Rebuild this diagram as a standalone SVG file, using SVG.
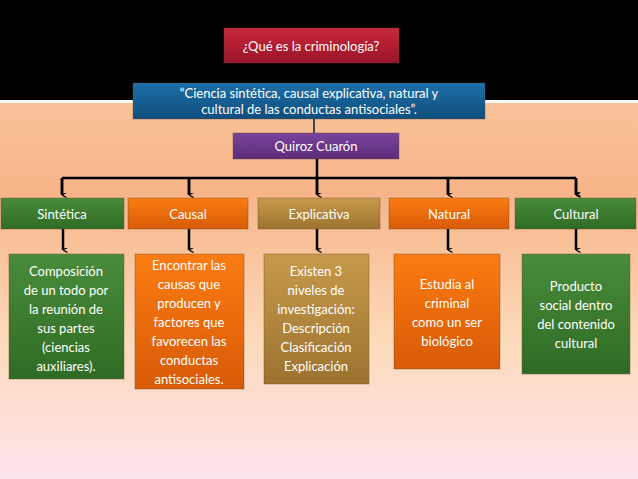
<svg xmlns="http://www.w3.org/2000/svg" width="638" height="479" viewBox="0 0 638 479">
<defs>
<linearGradient id="bg" x1="0" y1="0" x2="0" y2="1">
<stop offset="0" stop-color="#fbd3ad"/>
<stop offset="0.4" stop-color="#f7b488"/>
<stop offset="0.7" stop-color="#fcd9b8"/>
<stop offset="1" stop-color="#fde4ec"/>
</linearGradient>
<linearGradient id="red" x1="0" y1="0" x2="0" y2="1"><stop offset="0" stop-color="#c8283d"/><stop offset="1" stop-color="#9a1428"/></linearGradient>
<linearGradient id="blue" x1="0" y1="0" x2="0" y2="1"><stop offset="0" stop-color="#1d6fa8"/><stop offset="1" stop-color="#0e4e7e"/></linearGradient>
<linearGradient id="purple" x1="0" y1="0" x2="0" y2="1"><stop offset="0" stop-color="#7a439a"/><stop offset="1" stop-color="#5b2c7a"/></linearGradient>
<linearGradient id="green" x1="0" y1="0" x2="0" y2="1"><stop offset="0" stop-color="#4a8c3a"/><stop offset="1" stop-color="#2f6b25"/></linearGradient>
<linearGradient id="orange" x1="0" y1="0" x2="0" y2="1"><stop offset="0" stop-color="#fb7c12"/><stop offset="1" stop-color="#d85a06"/></linearGradient>
<linearGradient id="tan" x1="0" y1="0" x2="0" y2="1"><stop offset="0" stop-color="#c79a4a"/><stop offset="1" stop-color="#9c7230"/></linearGradient>
<marker id="ah" viewBox="0 0 10 10" refX="5" refY="9" markerWidth="5" markerHeight="5" orient="auto-start-reverse" markerUnits="userSpaceOnUse">
<path d="M0,0 L5,9 L10,0" fill="none" stroke="#000" stroke-width="2.5"/>
</marker>
</defs>
<style>
text{font-family:Lato,"Open Sans","Liberation Sans",sans-serif;fill:#fff;text-anchor:middle;font-size:13px}
.b{stroke:#6b4a30;stroke-opacity:0.4;stroke-width:1}
.c{stroke:#000;stroke-width:2.5;fill:none}
</style>
<rect width="638" height="479" fill="url(#bg)"/>
<rect width="638" height="100" fill="#000"/>
<rect y="100" width="638" height="3" fill="#fff"/>
<g id="connectors">
<path class="c" d="M317,159 V178 M62,178 H576 M62,178 V194 M189,178 V194 M317,178 V194 M448,178 V194 M576,178 V194" marker-end="url(#ah)"/>
<path class="c" d="M62,178 V195" marker-end="url(#ah)"/>
<path class="c" d="M189,178 V195" marker-end="url(#ah)"/>
<path class="c" d="M317,178 V195" marker-end="url(#ah)"/>
<path class="c" d="M448,178 V195" marker-end="url(#ah)"/>
<path class="c" d="M576,178 V195" marker-end="url(#ah)"/>
<path class="c" d="M63,229 V250" marker-end="url(#ah)"/>
<path class="c" d="M189,229 V250" marker-end="url(#ah)"/>
<path class="c" d="M317,229 V250" marker-end="url(#ah)"/>
<path class="c" d="M448,229 V250" marker-end="url(#ah)"/>
<path class="c" d="M576,229 V250" marker-end="url(#ah)"/>
<path d="M314,119 V133" stroke="#444" stroke-width="2"/>
</g>
<g id="title"><rect class="b" x="224" y="28" width="175" height="35" fill="url(#red)"/><text x="311" y="51">¿Qué es la criminología?</text></g>
<g id="def"><rect class="b" x="133" y="83" width="352" height="36" fill="url(#blue)"/><text x="309" y="98">“Ciencia sintética, causal explicativa, natural y</text><text x="309" y="114">cultural de las conductas antisociales”.</text></g>
<g id="author"><rect class="b" x="233" y="133" width="166" height="26" fill="url(#purple)"/><text x="316" y="151">Quiroz Cuarón</text></g>
<g id="sintetica"><rect class="b" x="1" y="198" width="123" height="31" fill="url(#green)"/><text x="62" y="219">Sintética</text></g>
<g id="causal"><rect class="b" x="128" y="198" width="120" height="31" fill="url(#orange)"/><text x="188" y="219">Causal</text></g>
<g id="explicativa"><rect class="b" x="258" y="198" width="122" height="31" fill="url(#tan)"/><text x="319" y="219">Explicativa</text></g>
<g id="natural"><rect class="b" x="389" y="198" width="120" height="31" fill="url(#orange)"/><text x="449" y="219">Natural</text></g>
<g id="cultural"><rect class="b" x="515" y="198" width="121" height="31" fill="url(#green)"/><text x="576" y="219">Cultural</text></g>
<g id="d1"><rect class="b" x="9" y="254" width="115" height="125" fill="url(#green)"/>
<text x="66" y="276">Composición</text><text x="66" y="295">de un todo por</text><text x="66" y="314">la reunión de</text><text x="66" y="333">sus partes</text><text x="66" y="352">(ciencias</text><text x="66" y="371">auxiliares).</text></g>
<g id="d2"><rect class="b" x="135" y="254" width="109" height="135" fill="url(#orange)"/>
<text x="189" y="270">Encontrar las</text><text x="189" y="289">causas que</text><text x="189" y="308">producen y</text><text x="189" y="327">factores que</text><text x="189" y="346">favorecen las</text><text x="189" y="365">conductas</text><text x="189" y="384">antisociales.</text></g>
<g id="d3"><rect class="b" x="264" y="254" width="105" height="130" fill="url(#tan)"/>
<text x="316" y="276">Existen 3</text><text x="316" y="295">niveles de</text><text x="316" y="314">investigación:</text><text x="316" y="333">Descripción</text><text x="316" y="352">Clasificación</text><text x="316" y="371">Explicación</text></g>
<g id="d4"><rect class="b" x="394" y="254" width="106" height="115" fill="url(#orange)"/>
<text x="447" y="289">Estudia al</text><text x="447" y="308">criminal</text><text x="447" y="327">como un ser</text><text x="447" y="346">biológico</text></g>
<g id="d5"><rect class="b" x="522" y="254" width="108" height="120" fill="url(#green)"/>
<text x="576" y="291">Producto</text><text x="576" y="310">social dentro</text><text x="576" y="329">del contenido</text><text x="576" y="348">cultural</text></g>
</svg>
